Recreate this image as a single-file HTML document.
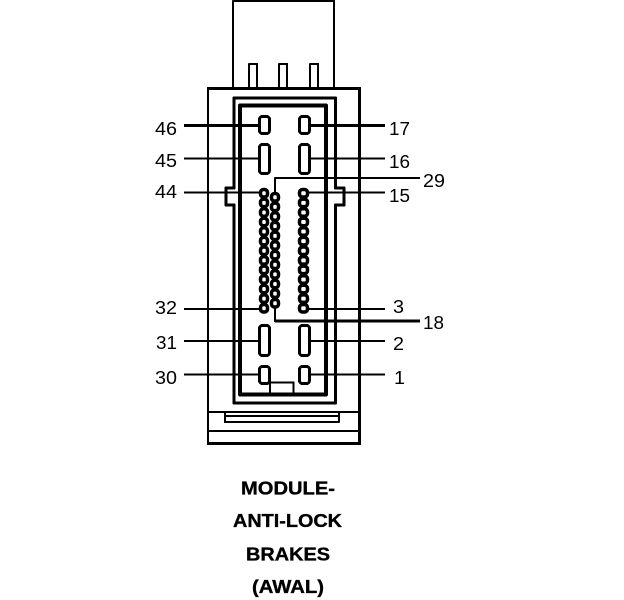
<!DOCTYPE html>
<html>
<head>
<meta charset="utf-8">
<style>
html,body{margin:0;padding:0;background:#fff;width:624px;height:600px;overflow:hidden}
svg{display:block}
text{font-family:"Liberation Sans",sans-serif;fill:#000}
.n{font-size:18px}
.t{font-size:18px;font-weight:bold;stroke:#000;stroke-width:.35px}
</style>
</head>
<body>
<svg width="624" height="600" viewBox="0 0 624 600" xmlns="http://www.w3.org/2000/svg">
<g fill="none" stroke="#000" stroke-linejoin="round" shape-rendering="crispEdges">
  <!-- top box -->
  <path d="M233 88V1H334V88" stroke-width="2"/>
  <path d="M249 88V64H257V88M279 88V64H287V88M310 88V64H318V88" stroke-width="2"/>
  <!-- outer body -->
  <path d="M208 443V89" stroke-width="2"/>
  <path d="M359.500 443V89" stroke-width="3"/>
  <path d="M207 88.500H361" stroke-width="3"/>
  <path d="M208 412H360" stroke-width="2"/>
  <path d="M208 431H360" stroke-width="2"/>
  <path d="M207 443.500H361" stroke-width="3"/>
  <path d="M225 412V422H339V412M225 416H339" stroke-width="2"/>
  <!-- middle rect with notches -->
  <path d="M234 188V98H335.500V188H344V205H335.500V403H234V205H226V188Z" stroke-width="3"/>
  <!-- inner rect -->
  <path d="M240 394.500V105.500H326V394.500Z" stroke-width="4"/>
  <!-- leader lines left -->
  <path d="M184 125.500H259" stroke-width="3"/>
  <path d="M184 158.500H259" stroke-width="2"/>
  <path d="M184 192.500H259" stroke-width="2"/>
  <path d="M184 309H259" stroke-width="2"/>
  <path d="M184 341H259" stroke-width="2"/>
  <path d="M184 374.500H259" stroke-width="2"/>
  <!-- leader lines right -->
  <path d="M310 125.500H385" stroke-width="3"/>
  <path d="M310 158.500H385" stroke-width="2"/>
  <path d="M308 192.500H385" stroke-width="2"/>
  <path d="M308 309H385" stroke-width="2"/>
  <path d="M310 341H385" stroke-width="2"/>
  <path d="M310 374.500H385" stroke-width="2"/>
  <!-- 29 / 18 leaders -->
  <path d="M275 192V178H420" stroke-width="2"/>
  <path d="M275 308V321H420" stroke-width="2"/>
  <path d="M275 321H420" stroke-width="3"/>
  <!-- bracket -->
  <path d="M270 383V394M270 382.500H293.500V394" stroke-width="2"/>
</g>
<g fill="#fff" stroke="#000" stroke-width="3" shape-rendering="crispEdges">
  <rect x="259.500" y="116.500" width="10" height="17" rx="3"/>
  <rect x="299.500" y="116.500" width="10" height="17" rx="3"/>
  <rect x="259.500" y="144.500" width="10" height="29" rx="3"/>
  <rect x="299.500" y="144.500" width="10" height="29" rx="3"/>
  <rect x="259.500" y="325.500" width="10" height="30" rx="3"/>
  <rect x="299.500" y="325.500" width="10" height="30" rx="3"/>
  <rect x="259.500" y="366.500" width="10" height="17" rx="3"/>
  <rect x="299.500" y="366.500" width="10" height="17" rx="3"/>
</g>
<g fill="#fff" stroke="#000" stroke-width="3.500">
  <!-- left column, 13 pins -->
  <rect x="260.500" y="189.500" width="7" height="7.500" rx="3"/>
  <rect x="260.500" y="199.100" width="7" height="7.500" rx="3"/>
  <rect x="260.500" y="208.700" width="7" height="7.500" rx="3"/>
  <rect x="260.500" y="218.200" width="7" height="7.500" rx="3"/>
  <rect x="260.500" y="227.800" width="7" height="7.500" rx="3"/>
  <rect x="260.500" y="237.400" width="7" height="7.500" rx="3"/>
  <rect x="260.500" y="247" width="7" height="7.500" rx="3"/>
  <rect x="260.500" y="256.600" width="7" height="7.500" rx="3"/>
  <rect x="260.500" y="266.100" width="7" height="7.500" rx="3"/>
  <rect x="260.500" y="275.700" width="7" height="7.500" rx="3"/>
  <rect x="260.500" y="285.300" width="7" height="7.500" rx="3"/>
  <rect x="260.500" y="294.900" width="7" height="7.500" rx="3"/>
  <rect x="260.500" y="304.500" width="7" height="7.500" rx="3"/>
  <!-- center column, 12 pins -->
  <rect x="271.500" y="193.500" width="7" height="7.500" rx="3"/>
  <rect x="271.500" y="203.100" width="7" height="7.500" rx="3"/>
  <rect x="271.500" y="212.800" width="7" height="7.500" rx="3"/>
  <rect x="271.500" y="222.400" width="7" height="7.500" rx="3"/>
  <rect x="271.500" y="232.100" width="7" height="7.500" rx="3"/>
  <rect x="271.500" y="241.700" width="7" height="7.500" rx="3"/>
  <rect x="271.500" y="251.400" width="7" height="7.500" rx="3"/>
  <rect x="271.500" y="261" width="7" height="7.500" rx="3"/>
  <rect x="271.500" y="270.600" width="7" height="7.500" rx="3"/>
  <rect x="271.500" y="280.300" width="7" height="7.500" rx="3"/>
  <rect x="271.500" y="289.900" width="7" height="7.500" rx="3"/>
  <rect x="271.500" y="299.500" width="7" height="7.500" rx="3"/>
  <!-- right column, 13 pins -->
  <rect x="299.500" y="189.500" width="8" height="7.500" rx="3"/>
  <rect x="299.500" y="199.100" width="8" height="7.500" rx="3"/>
  <rect x="299.500" y="208.700" width="8" height="7.500" rx="3"/>
  <rect x="299.500" y="218.200" width="8" height="7.500" rx="3"/>
  <rect x="299.500" y="227.800" width="8" height="7.500" rx="3"/>
  <rect x="299.500" y="237.400" width="8" height="7.500" rx="3"/>
  <rect x="299.500" y="247" width="8" height="7.500" rx="3"/>
  <rect x="299.500" y="256.600" width="8" height="7.500" rx="3"/>
  <rect x="299.500" y="266.100" width="8" height="7.500" rx="3"/>
  <rect x="299.500" y="275.700" width="8" height="7.500" rx="3"/>
  <rect x="299.500" y="285.300" width="8" height="7.500" rx="3"/>
  <rect x="299.500" y="294.900" width="8" height="7.500" rx="3"/>
  <rect x="299.500" y="304.500" width="8" height="7.500" rx="3"/>
</g>
<g class="n">
  <text class="n" x="155" y="135" textLength="22" lengthAdjust="spacingAndGlyphs">46</text>
  <text class="n" x="155" y="167" textLength="22" lengthAdjust="spacingAndGlyphs">45</text>
  <text class="n" x="155" y="198" textLength="22" lengthAdjust="spacingAndGlyphs">44</text>
  <text class="n" x="155" y="314" textLength="22" lengthAdjust="spacingAndGlyphs">32</text>
  <text class="n" x="156" y="349" textLength="21" lengthAdjust="spacingAndGlyphs">31</text>
  <text class="n" x="155" y="384" textLength="22" lengthAdjust="spacingAndGlyphs">30</text>
  <text class="n" x="389" y="135" textLength="21" lengthAdjust="spacingAndGlyphs">17</text>
  <text class="n" x="389" y="168" textLength="21" lengthAdjust="spacingAndGlyphs">16</text>
  <text class="n" x="389" y="202" textLength="21" lengthAdjust="spacingAndGlyphs">15</text>
  <text class="n" x="423" y="187" textLength="22" lengthAdjust="spacingAndGlyphs">29</text>
  <text class="n" x="423" y="329" textLength="21" lengthAdjust="spacingAndGlyphs">18</text>
  <text class="n" x="393" y="313" textLength="11" lengthAdjust="spacingAndGlyphs">3</text>
  <text class="n" x="393" y="350" textLength="11" lengthAdjust="spacingAndGlyphs">2</text>
  <text class="n" x="394" y="384" textLength="11" lengthAdjust="spacingAndGlyphs">1</text>
</g>
<text class="t" x="241" y="494.500" textLength="94" lengthAdjust="spacingAndGlyphs">MODULE-</text>
<text class="t" x="233" y="527" textLength="109" lengthAdjust="spacingAndGlyphs">ANTI-LOCK</text>
<text class="t" x="246" y="560.500" textLength="84" lengthAdjust="spacingAndGlyphs">BRAKES</text>
<text class="t" x="252" y="593" textLength="72" lengthAdjust="spacingAndGlyphs">(AWAL)</text>
</svg>
</body>
</html>
